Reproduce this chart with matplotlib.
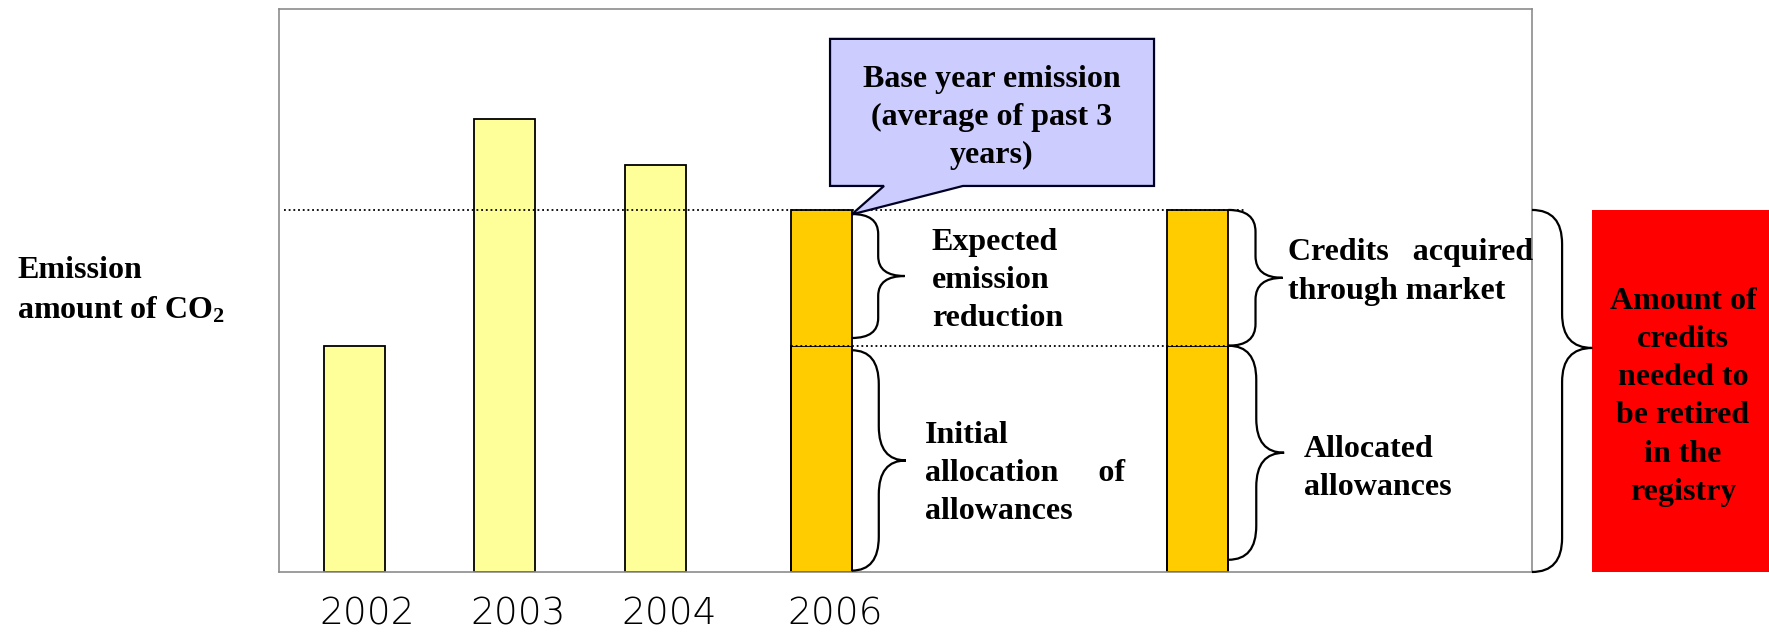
import matplotlib.pyplot as plt
from matplotlib.patches import Rectangle, Polygon, PathPatch
from matplotlib.path import Path

# --- data (arbitrary emission units) ---
years = ['2002', '2003', '2004', '2006']
past_emission = [50, 100, 90]        # 2002, 2003, 2004
base_year = 80                        # average of past 3 years
allowances = [50, 50]                 # 2006 bar, market bar
extra_credits = [30, 30]              # expected reduction / credits acquired

# --- layout ---
x_past = [0, 1, 2]
x_stack = [3.1, 5.6]
bw = 0.405
serif = dict(family='Liberation Serif', weight='bold', fontsize=23, linespacing=1.42)

plt.rcParams['mathtext.fontset'] = 'custom'
plt.rcParams['mathtext.rm'] = 'Liberation Serif:bold'
plt.rcParams['mathtext.it'] = 'Liberation Serif:bold'
plt.rcParams['mathtext.bf'] = 'Liberation Serif:bold'


def brace(ax, x0, y0, y1, w, ytip=None, r=None, lw=1.6):
    # right-facing curly brace from y0 to y1 starting at x0
    if ytip is None:
        ytip = (y0 + y1) / 2
    if r is None:
        r = min(0.16 * (y1 - y0), 7.5)
    xm = x0 + w * 0.5
    xt = x0 + w
    verts = [(x0, y1), (xm, y1), (xm, y1 - r),
             (xm, ytip + r),
             (xm, ytip), (xt, ytip),
             (xm, ytip), (xm, ytip - r),
             (xm, y0 + r),
             (xm, y0), (x0, y0)]
    codes = [Path.MOVETO, Path.CURVE3, Path.CURVE3,
             Path.LINETO,
             Path.CURVE3, Path.CURVE3,
             Path.CURVE3, Path.CURVE3,
             Path.LINETO,
             Path.CURVE3, Path.CURVE3]
    ax.add_patch(PathPatch(Path(verts, codes), fill=False, lw=lw,
                           edgecolor='black', clip_on=False, zorder=4))


fig = plt.figure(figsize=(17.69, 6.34), dpi=100)
ax = fig.add_axes([0.1577, 0.0978, 0.7083, 0.888])
ax.set_xlim(-0.498, 7.817)
ax.set_ylim(0, 124.4)
for s in ax.spines.values():
    s.set_color('#8c8c8c')
    s.set_linewidth(1.2)
ax.set_yticks([])

# bars
ax.bar(x_past, past_emission, width=bw, color='#FFFF99',
       edgecolor='black', linewidth=1.3, zorder=2)
ax.bar(x_stack, allowances, width=bw, color='#FFCC00',
       edgecolor='black', linewidth=1.3, zorder=2)
ax.bar(x_stack, extra_credits, bottom=allowances, width=bw, color='#FFCC00',
       edgecolor='#FFCC00', linewidth=0, zorder=2)
ax.bar(x_stack, [a + c for a, c in zip(allowances, extra_credits)], width=bw,
       fill=False, edgecolor='black', linewidth=1.3, zorder=2)

# dotted reference lines
ax.plot([-0.465, x_stack[1] + bw / 2 + 0.12], [base_year, base_year],
        color='black', lw=1.3, ls=(0, (1, 1.6)), zorder=3)
ax.plot([x_stack[0] - bw / 2, x_stack[1] + bw / 2], [allowances[0], allowances[0]],
        color='black', lw=1.3, ls=(0, (1, 1.6)), zorder=3)

# x tick labels
ax.set_xticks([p + 0.09 for p in x_past + x_stack[:1]], years)
ax.tick_params(axis='x', length=0, pad=18)
for lab in ax.get_xticklabels():
    lab.set_fontfamily('DejaVu Sans')
    lab.set_fontweight('light')
    lab.set_fontsize(27)

# callout
tip_x = x_stack[0] + bw / 2
tip_y = base_year - 1
call = Polygon([(3.159, 117.8), (5.309, 117.8), (5.309, 85.3), (4.041, 85.3),
                (tip_x, tip_y), (3.517, 85.3), (3.159, 85.3)],
               closed=True, facecolor='#CCCCFF', edgecolor='#000022', lw=1.6, zorder=5)
ax.add_patch(call)
ax.text(4.233, 100.4, 'Base year emission\n(average of past 3\nyears)',
        ha='center', va='center', zorder=6, **serif)

# braces
right0 = x_stack[0] + bw / 2
right1 = x_stack[1] + bw / 2
brace(ax, right0, allowances[0] + 1.7, base_year - 0.9, 0.352)
brace(ax, right0, 0.3, allowances[0] - 1.0, 0.36)
brace(ax, right1, allowances[1], base_year, 0.36)
brace(ax, right1, 2.7, allowances[1], 0.37)
brace(ax, 7.817, 0, base_year, 0.40, ytip=49.5, r=7.5)

ax.text(3.835, 64.4, 'Expected\nemission\nreduction', ha='left', va='center', **serif)
ax.text(3.789, 21.8, 'Initial\nallocation     of\nallowances', ha='left', va='center', **serif)
ax.text(6.198, 66.3, 'Credits   acquired\nthrough market', ha='left', va='center', **serif)
ax.text(6.304, 22.8, 'Allocated\nallowances', ha='left', va='center', **serif)

# red box outside the frame
ax.add_patch(Rectangle((8.215, 0), 1.2, base_year, facecolor='#FF0000',
                       edgecolor='none', clip_on=False, zorder=3))
ax.text(8.819, 38.7, 'Amount of\ncredits\nneeded to\nbe retired\nin the\nregistry',
        ha='center', va='center', clip_on=False, zorder=4, **serif)

fig.text(0.0096, 0.542, 'Emission\namount of CO$_2$', ha='left', va='center', **serif)

fig.savefig('out.png', dpi=100)
